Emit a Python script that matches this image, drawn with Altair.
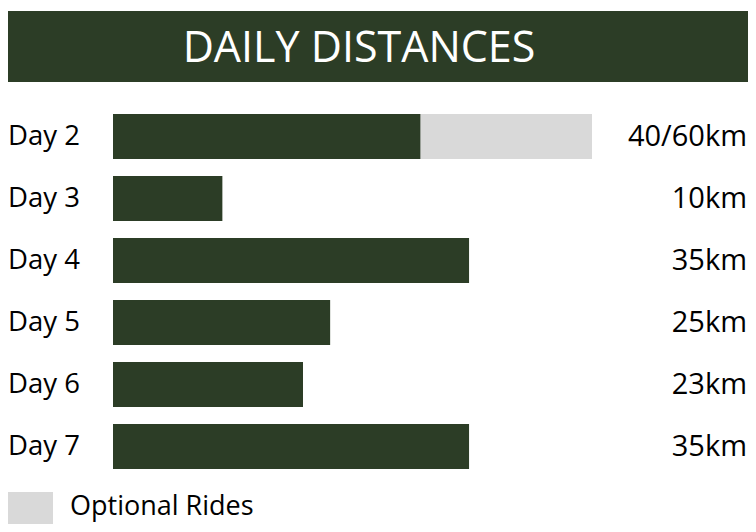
import altair as alt
import pandas as pd

# ---- data ----
days = ["Day 2", "Day 3", "Day 4", "Day 5", "Day 6", "Day 7"]
# drawn bar lengths (km-equivalent; 60 km = full optional bar)
main_lengths = [38.5, 13.7, 44.6, 27.2, 23.8, 44.6]
optional_days = ["Day 2"]
optional_lengths = [60]
value_labels = ["40/60km", "10km", "35km", "25km", "23km", "35km"]
title_text = ["DAILY DISTANCES"]
legend_labels = ["Optional Rides"]

GREEN = "#2c3d26"
GREY = "#d9d9d9"
FONT = "Open Sans"

main_df = pd.DataFrame({"day": days, "length": main_lengths, "label": value_labels})
opt_df = pd.DataFrame({"day": optional_days, "length": optional_lengths})
title_df = pd.DataFrame({"t": title_text})
legend_df = pd.DataFrame({"t": legend_labels})

W, H = 740, 516

y_scale = alt.Scale(domain=days, range=[97.5, 469.5], paddingInner=0.274, paddingOuter=0.137)
x_scale = alt.Scale(domain=[0, 60], range=[105, 584])

y_enc = alt.Y("day:N", scale=y_scale, axis=None)

banner = alt.Chart(title_df).mark_rect(color=GREEN).encode(
    x=alt.value(0), x2=alt.value(W), y=alt.value(3), y2=alt.value(74)
)
title = alt.Chart(title_df).mark_text(
    font=FONT, fontSize=43, color="white", align="center", baseline="alphabetic"
).encode(x=alt.value(351), y=alt.value(54), text="t:N")

opt_bar = alt.Chart(opt_df).mark_bar(color=GREY).encode(
    y=y_enc, x=alt.X("length:Q", scale=x_scale, axis=None)
)
main_bar = alt.Chart(main_df).mark_bar(color=GREEN).encode(
    y=y_enc, x=alt.X("length:Q", scale=x_scale, axis=None)
)
day_text = alt.Chart(main_df).mark_text(
    font=FONT, fontSize=27.5, color="black", align="left", baseline="middle"
).encode(y=y_enc, x=alt.value(0), text="day:N")
val_text = alt.Chart(main_df).mark_text(
    font=FONT, fontSize=29, color="black", align="right", baseline="middle"
).encode(y=y_enc, x=alt.value(739), text="label:N")

legend_rect = alt.Chart(legend_df).mark_rect(color=GREY).encode(
    x=alt.value(0), x2=alt.value(45), y=alt.value(484), y2=alt.value(H)
)
legend_text = alt.Chart(legend_df).mark_text(
    font=FONT, fontSize=27, color="black", align="left", baseline="alphabetic"
).encode(x=alt.value(62), y=alt.value(507), text="t:N")

chart = alt.layer(
    banner, title, opt_bar, main_bar, day_text, val_text, legend_rect, legend_text
).properties(
    width=W, height=H, padding=0, autosize="none"
).configure_view(stroke=None)

chart.save("out.html", embed_options={"renderer": "svg", "actions": False})
